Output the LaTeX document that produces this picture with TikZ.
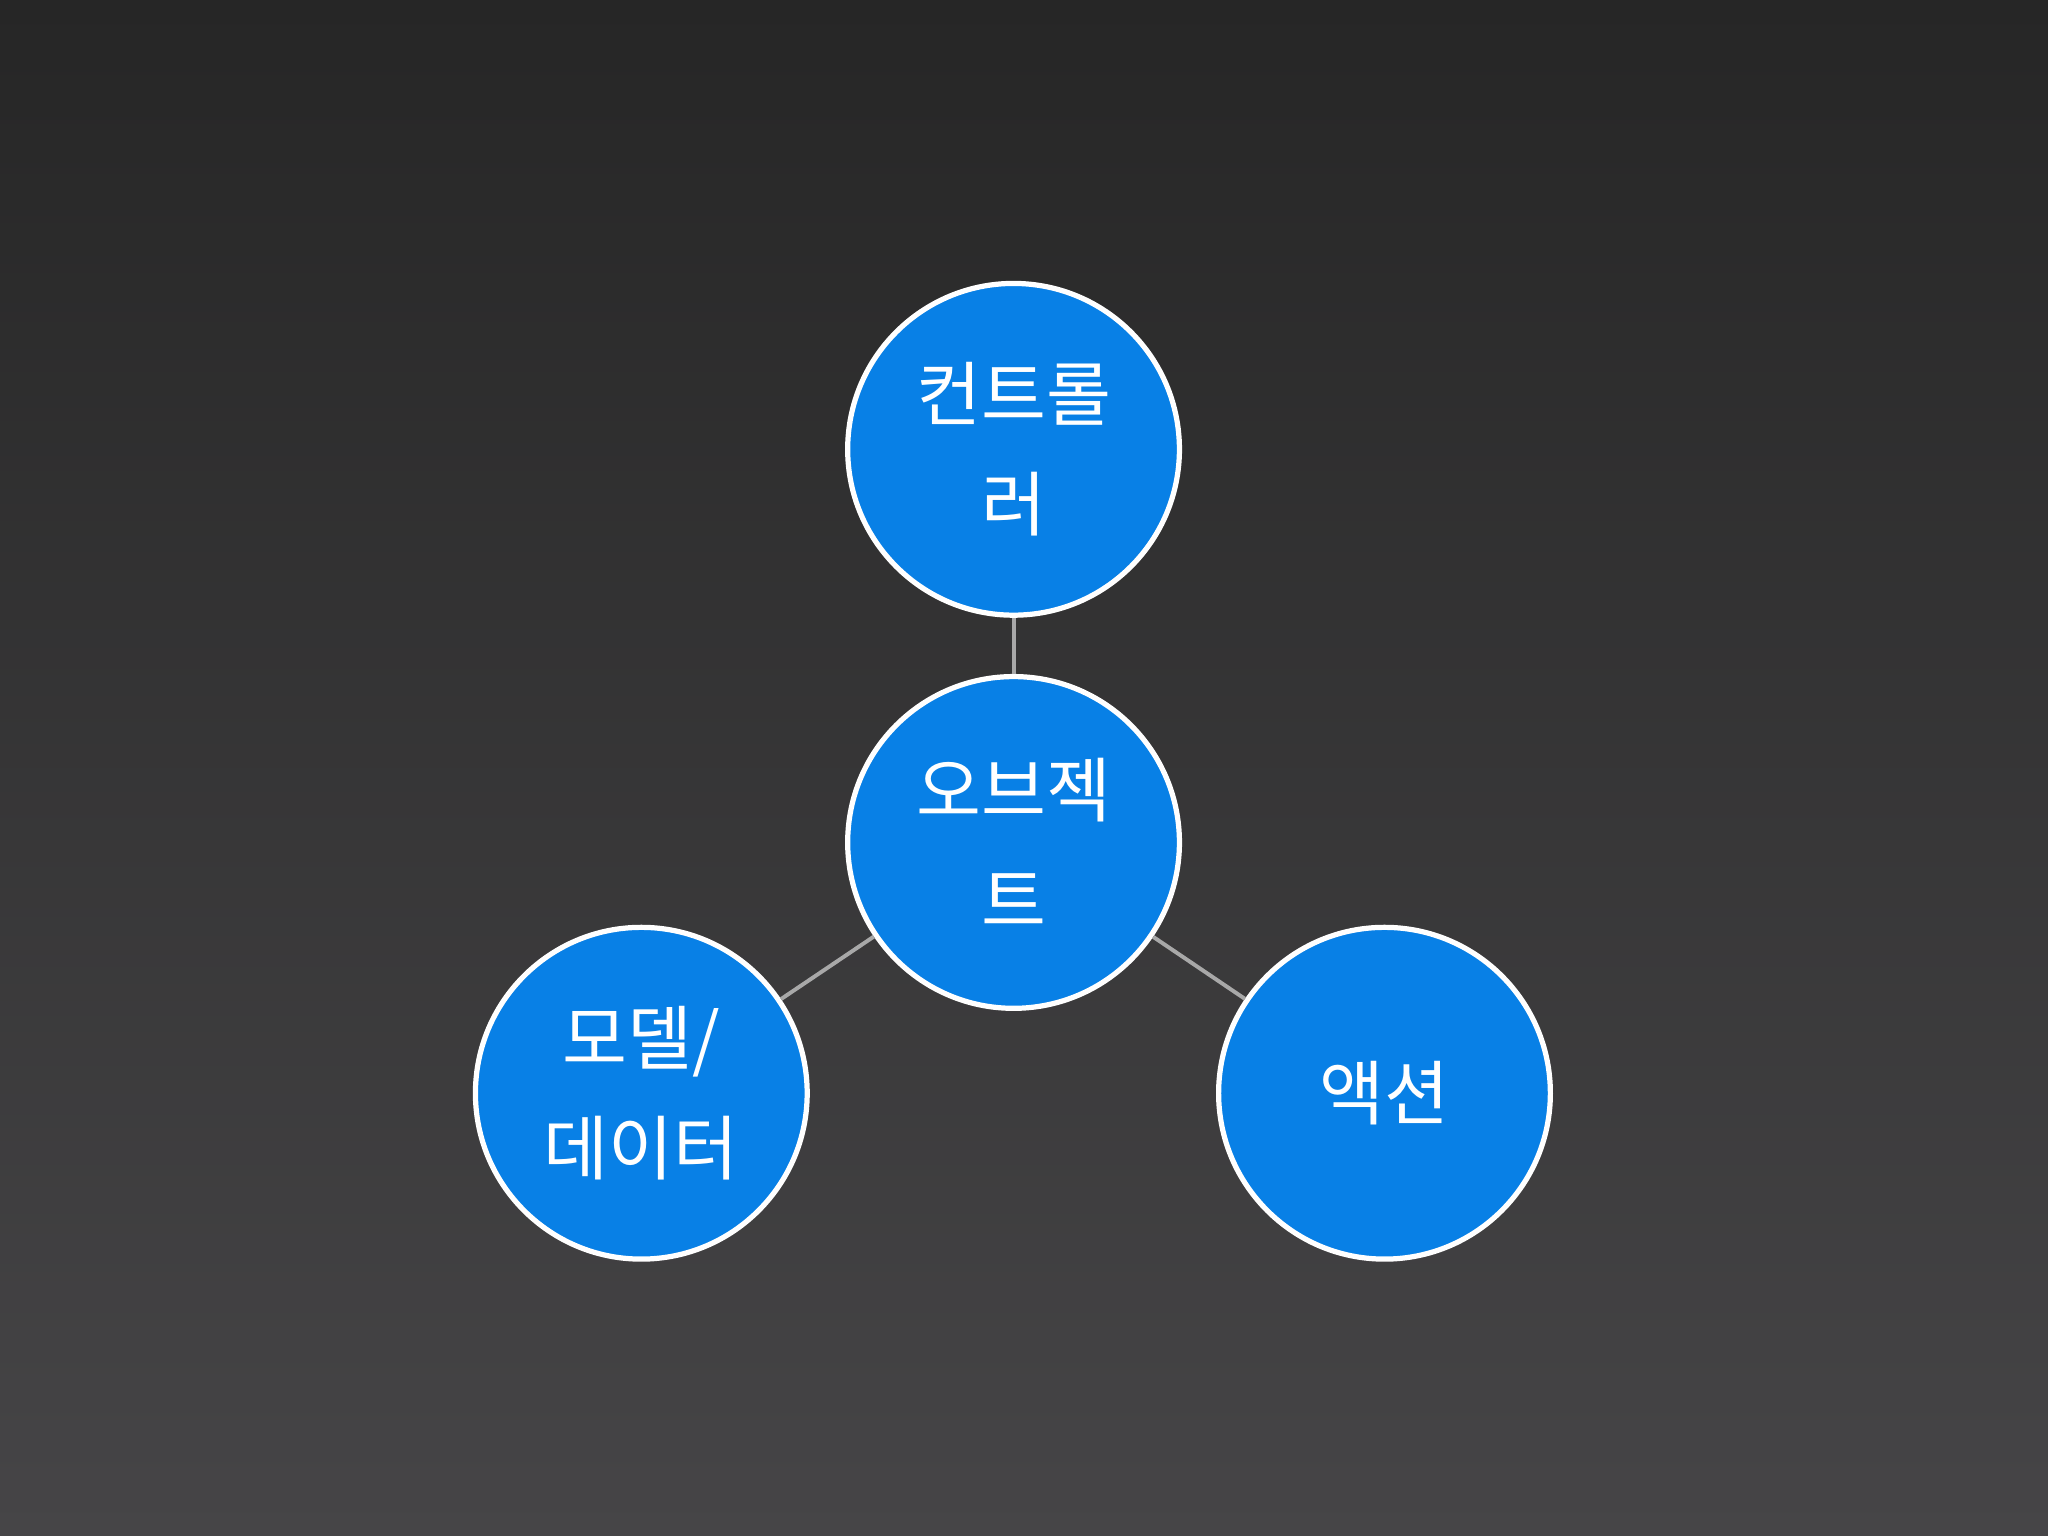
\documentclass[tikz,border=0pt]{standalone}
\usepackage{fontspec}
\newfontfamily\kr{Noto Sans CJK KR}
\definecolor{bgtop}{HTML}{262626}
\definecolor{bgbot}{HTML}{464547}
\definecolor{circ}{HTML}{0880E6}
\definecolor{conn}{HTML}{A8A8A8}
\tikzset{
  bubble/.style={circle, draw=white, line width=2pt, fill=circ, minimum size=127pt, inner sep=0pt,
    text=white, align=center, font=\kr\fontsize{27}{42}\selectfont},
  link/.style={draw=conn, line width=1.5pt}
}
\begin{document}
\begin{tikzpicture}[x=0.5pt,y=-0.5pt]
\shade[top color=bgtop, bottom color=bgbot] (0,0) rectangle (1568,1176);
\useasboundingbox (0,0) rectangle (1568,1176);
\node[bubble] (c) at (776,645) {오브젝\\트};
\node[bubble] (t) at (776,344) {컨트롤\\러};
\node[bubble] (l) at (491,837) {모델/\\데이터};
\node[bubble] (r) at (1060,837) {액션};
\draw[link] (c) -- (t);
\draw[link] (c) -- (l);
\draw[link] (c) -- (r);
\end{tikzpicture}
\end{document}
